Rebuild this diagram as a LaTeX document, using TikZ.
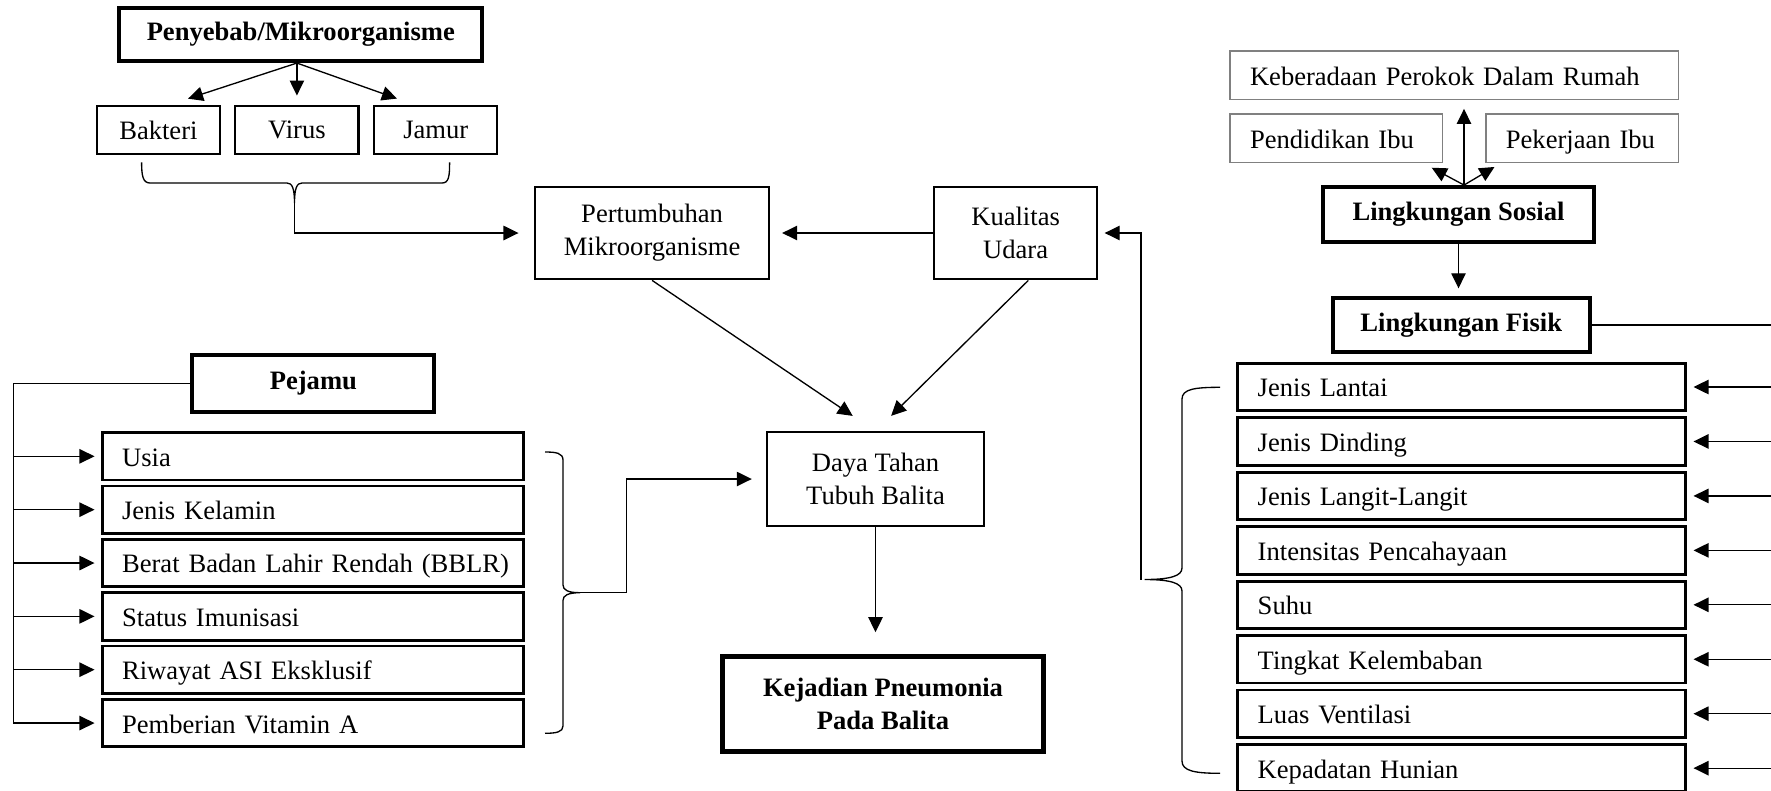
\documentclass[tikz,border=0pt]{standalone}
\usepackage{fontspec}
\setmainfont{Liberation Serif}
\usetikzlibrary{arrows.meta,positioning,calc}

\begin{document}
\begin{tikzpicture}[x=0.4515pt, y=-0.4515pt,
    every node/.style={font=\fontsize{12}{15}\selectfont, inner sep=0pt},
    box/.style={draw, line width=1pt, align=center},
    sbox/.style={box, minimum width=55.6pt, minimum height=21.7pt},
    bbox/.style={draw, line width=1.8pt, align=center, font=\fontsize{12}{15}\selectfont\bfseries},
    lbox/.style={draw, line width=1.3pt, text width=#1, inner xsep=9pt, minimum height=21.4pt,
        align=left, text height=9.5pt, text depth=0.5pt},
    gbox/.style={lbox=#1, draw=gray, line width=0.6pt, minimum height=21.8pt},
    arr/.style={-{Triangle[length=6.8pt,width=6.5pt]}, line width=0.6pt},
    link/.style={line width=0.6pt}]
\useasboundingbox (0,0) rectangle (1771,790);

% penyebab
\node[bbox, minimum width=163.8pt, minimum height=23.8pt] (pen) at (300.8,34.7) {Penyebab/Mikroorganisme};
\node[sbox] (bak) at (158.4,130) {Bakteri};
\node[sbox] (vir) at (296.9,130) {Virus};
\node[sbox] (jam) at (435.8,130) {Jamur};
\draw[arr, shorten >=9pt] (pen.south -| vir.north) -- (bak.67);
\draw[arr, shorten >=4.2pt] (pen.south -| vir.north) -- (vir.north);
\draw[arr, shorten >=8.5pt] (pen.south -| vir.north) -- (jam.130);
\draw[link] (141.6,162.3) .. controls (141.6,176) and (143,183) .. (150,183) -- (287,183)
    .. controls (292,183) and (294.5,188) .. (294.5,203)
    .. controls (294.5,188) and (297,183) .. (302,183) -- (442,183)
    .. controls (449,183) and (449.6,176) .. (449.6,162.3);
\coordinate (bt) at (294.5,203);

% tengah
\node[box, minimum width=105.6pt, minimum height=41.8pt] (pert) at (652.1,233) {Pertumbuhan\\Mikroorganisme};
\node[box, minimum width=73.4pt, minimum height=41.8pt] (kual) at (1015.6,233) {Kualitas\\Udara};
\node[box, line width=0.9pt, minimum width=98.2pt, minimum height=42.2pt] (daya) at (875.5,479) {Daya Tahan\\Tubuh Balita};
\node[bbox, line width=2.3pt, minimum width=144.8pt, minimum height=42.9pt] (kej) at (883,704.2) {Kejadian Pneumonia\\Pada Balita};
\draw[arr, shorten >=7pt] (bt) |- (pert.west);
\draw[arr, shorten >=5.4pt] (kual.west) -- (pert.east);
\draw[arr, shorten >=12.4pt] (pert.south) -- (daya.north);
\draw[arr, shorten >=9.9pt] (kual.-75) -- (daya.north);
\draw[arr, shorten >=9.9pt] (daya.south) -- (daya.south |- kej.north);

% pejamu
\node[bbox, minimum width=109.2pt, minimum height=25.6pt] (pej) at (313.4,383.3) {Pejamu};
\foreach \t [count=\i] in {Usia, Jenis Kelamin, Berat Badan Lahir Rendah (BBLR), Status Imunisasi,
    Riwayat ASI Eksklusif, Pemberian Vitamin A}
  \node[lbox=172.2pt] (h\i) at (312.8,402.95+53.35*\i) {\mbox{\t}};
\coordinate (hbar) at (13.4,383.3);
\draw[link] (pej.west) -- (hbar) -- (hbar |- h6.west);
\foreach \i in {1,...,6}
  \draw[arr, shorten >=2.8pt] (hbar |- h\i.west) -- (h\i.west);
\draw[link] (545,452) .. controls (556,452) and (563,453) .. (563,460) -- (563,585)
    .. controls (563,590) and (568,592.7) .. (580,592.7)
    .. controls (568,592.7) and (563,595.4) .. (563,600.4) -- (563,726)
    .. controls (563,732) and (556,733.3) .. (545,733.3);
\coordinate (ht) at (580,592.7);
\draw[arr, shorten >=6.3pt] (ht) -- ++(46.7,0) |- (daya.west);

% lingkungan
\node[gbox=184.4pt] (kebr) at (1454.2,75.2) {\mbox{Keberadaan Perokok Dalam Rumah}};
\node[gbox=78pt] (pend) at (1336.4,138.2) {\mbox{Pendidikan Ibu}};
\node[gbox=69pt] (pek) at (1582.3,138.2) {\mbox{Pekerjaan Ibu}};
\node[bbox, minimum width=122.2pt, minimum height=24.8pt] (sos) at (1458.5,214.5) {Lingkungan Sosial};
\node[bbox, minimum width=116.1pt, minimum height=24.1pt] (fis) at (1461.2,325) {Lingkungan Fisik};
\coordinate (sf) at ($(sos.north)+(5.5,0)$);
\draw[arr, shorten >=4pt] (sf) -- (sf |- kebr.south);
\draw[arr, shorten >=4.5pt] (sf) -- (pend.-16);
\draw[arr, shorten >=3.5pt] (sf) -- (pek.197);
\draw[arr, shorten >=3.6pt] (sos.south) -- (sos.south |- fis.north);
\foreach \t [count=\i] in {Jenis Lantai, Jenis Dinding, Jenis Langit-Langit, Intensitas Pencahayaan,
    Suhu, Tingkat Kelembaban, Luas Ventilasi, Kepadatan Hunian}
  \node[lbox=184.1pt] (f\i) at (1461.6,332.55+54.45*\i) {\mbox{\t}};
\coordinate (fbar) at (1771,325);
\draw[link] (fis.east) -- (fbar);
\foreach \i in {1,...,8}
  \draw[arr, shorten >=3pt] (fbar |- f\i.east) -- (f\i.east);
\draw[link] (1220,387.3) .. controls (1195,387.3) and (1182,389) .. (1182,399) -- (1182,568)
    .. controls (1182,576) and (1170,579.5) .. (1144.5,579.5)
    .. controls (1170,579.5) and (1182,583) .. (1182,591) -- (1182,761)
    .. controls (1182,771) and (1195,773.3) .. (1220,773.3);
\coordinate (ft) at (1141,579.5);
\draw[arr, shorten >=3pt] (ft) |- (kual.east);
\end{tikzpicture}
\end{document}
